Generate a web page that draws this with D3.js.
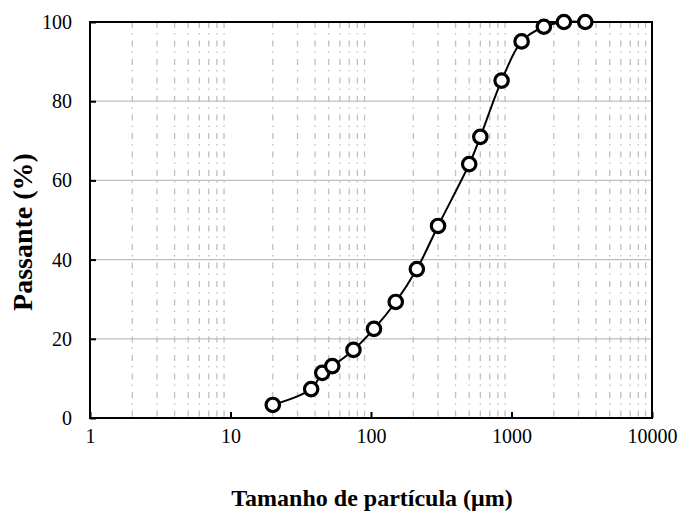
<!DOCTYPE html>
<html><head><meta charset="utf-8">
<script src="https://cdn.jsdelivr.net/npm/d3@7"></script>
<style>body{margin:0;background:#fff}svg{display:block}</style>
</head><body>
<script>
const sizes = [20, 37.5, 45, 53, 75, 105, 150, 212, 300, 500, 600, 850, 1180, 1700, 2360, 3350];
const passing = [3.3, 7.3, 11.4, 13.1, 17.2, 22.5, 29.3, 37.6, 48.5, 64.1, 71.0, 85.2, 95.1, 98.8, 100, 100];
const xTicks = [1, 10, 100, 1000, 10000];
const yTicks = [0, 20, 40, 60, 80, 100];
const xTitle = "Tamanho de partícula (μm)";
const yTitle = "Passante (%)";

const W = 681, H = 513;
const m = {left: 90, right: 681 - 652, top: 22, bottom: 513 - 418};
const svg = d3.select("body").append("svg").attr("width", W).attr("height", H);
const x = d3.scaleLog().domain([1, 10000]).range([m.left, W - m.right]);
const y = d3.scaleLinear().domain([0, 100]).range([H - m.bottom, m.top]);
const font = "'Liberation Serif','Times New Roman',serif";

// minor vertical gridlines
const minors = [];
for (let d = 1; d < 10000; d *= 10) for (let k = 2; k <= 9; k++) minors.push(d * k);
svg.append("g").selectAll("line").data(minors).join("line")
  .attr("x1", d => x(d)).attr("x2", d => x(d))
  .attr("y1", y(100)).attr("y2", y(0))
  .attr("stroke", "#bfbfbf").attr("stroke-width", 1.3)
  .attr("stroke-dasharray", "6,5,1.5,6");

// horizontal major gridlines
svg.append("g").selectAll("line").data(yTicks.slice(1, -1)).join("line")
  .attr("x1", x(1)).attr("x2", x(10000))
  .attr("y1", d => y(d)).attr("y2", d => y(d))
  .attr("stroke", "#bfbfbf").attr("stroke-width", 1.3);

// axes via d3
const yAxis = d3.axisLeft(y).tickValues(yTicks).tickSize(-6).tickPadding(18).tickFormat(d3.format("d"));
const gy = svg.append("g").attr("transform", `translate(${m.left},0)`).call(yAxis);
const xAxis = d3.axisBottom(x).tickValues(xTicks).tickSize(-6).tickPadding(19).tickFormat(d3.format("d"));
const gx = svg.append("g").attr("transform", `translate(0,${H - m.bottom})`).call(xAxis);
[gx, gy].forEach(g => {
  g.select(".domain").remove();
  g.selectAll(".tick line").attr("stroke", "#000").attr("stroke-width", 2);
  g.selectAll(".tick text").attr("font-family", font).attr("font-size", 20).attr("fill", "#000");
});
gx.selectAll(".tick text").attr("dy", "0.3em");

// frame
svg.append("rect").attr("x", x(1)).attr("y", y(100))
  .attr("width", x(10000) - x(1)).attr("height", y(0) - y(100))
  .attr("fill", "none").attr("stroke", "#000").attr("stroke-width", 2);

// line
const pts = sizes.map((s, i) => [s, passing[i]]);
svg.append("path").datum(pts)
  .attr("d", d3.line().x(d => x(d[0])).y(d => y(d[1])).curve(d3.curveCatmullRom.alpha(0.5)))
  .attr("fill", "none").attr("stroke", "#000").attr("stroke-width", 2);

svg.append("g").selectAll("circle").data(pts).join("circle")
  .attr("cx", d => x(d[0])).attr("cy", d => y(d[1])).attr("r", 6.7)
  .attr("fill", "#fff").attr("stroke", "#000").attr("stroke-width", 3.2);

// titles
svg.append("text").attr("x", 372).attr("y", 506).attr("text-anchor", "middle")
  .attr("font-family", font).attr("font-size", 24).attr("font-weight", "bold").text(xTitle);
svg.append("text").attr("transform", "translate(32,232) rotate(-90)").attr("text-anchor", "middle")
  .attr("font-family", font).attr("font-size", 28).attr("font-weight", "bold").text(yTitle);
</script>
</body></html>
